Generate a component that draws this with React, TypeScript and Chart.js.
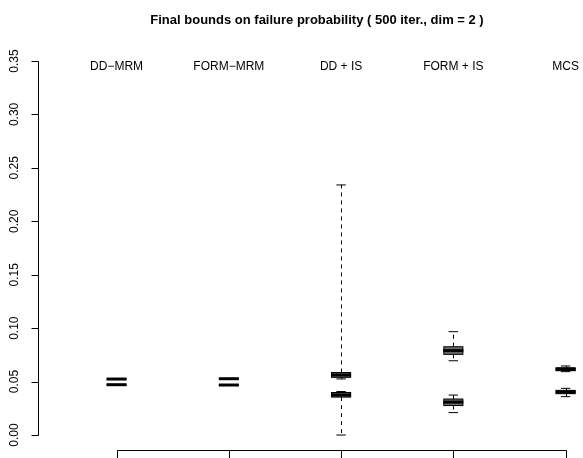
import React, { useEffect, useRef } from "react";
import { Chart, registerables } from "chart.js";

Chart.register(...registerables);

// ---------- data ----------
const titleText = "Final bounds on failure probability ( 500 iter., dim = 2 )";
const categories = ["DD\u2212MRM", "FORM\u2212MRM", "DD + IS", "FORM + IS", "MCS"];
const positions = [1, 2, 3, 4, 5];
const yTicks = [0, 0.05, 0.1, 0.15, 0.2, 0.25, 0.3, 0.35];

// upper-bound boxplots
const upperMin = [0.0523, 0.0526, 0.0525, 0.0695, 0.0593];
const upperQ1 = [0.0523, 0.0527, 0.054, 0.0755, 0.0602];
const upperMed = [0.0524, 0.0527, 0.0562, 0.079, 0.0614];
const upperQ3 = [0.0525, 0.0528, 0.0585, 0.0826, 0.063];
const upperMax = [0.0525, 0.0528, 0.234, 0.0967, 0.0646];

// lower-bound boxplots
const lowerMin = [0.047, 0.0467, 0.0, 0.021, 0.0359];
const lowerQ1 = [0.047, 0.0468, 0.0355, 0.0276, 0.0387];
const lowerMed = [0.0471, 0.0468, 0.0375, 0.0308, 0.0402];
const lowerQ3 = [0.0472, 0.0469, 0.0398, 0.0337, 0.0418];
const lowerMax = [0.0472, 0.0469, 0.0407, 0.0374, 0.0437];

// ---------- styles ----------
const BOX_HALF = 0.085; // in x units
const CAP_HALF = 0.042;
const FONT = "'Liberation Sans', Arial, Helvetica, sans-serif";

type Series = { min: number[]; q1: number[]; med: number[]; q3: number[]; max: number[] };
const seriesList: Series[] = [
  { min: upperMin, q1: upperQ1, med: upperMed, q3: upperQ3, max: upperMax },
  { min: lowerMin, q1: lowerQ1, med: lowerMed, q3: lowerQ3, max: lowerMax },
];

const boxPlugin = {
  id: "boxWhiskers",
  beforeDatasetsDraw(chart: any) {
    const ctx = chart.ctx;
    const xs = chart.scales.x;
    const ys = chart.scales.y;
    ctx.save();
    ctx.strokeStyle = "#000";
    ctx.lineWidth = 1;
    seriesList.forEach((s) => {
      positions.forEach((p, i) => {
        const cx = Math.round(xs.getPixelForValue(p)) + 0.5;
        const xl = xs.getPixelForValue(p - BOX_HALF);
        const xr = xs.getPixelForValue(p + BOX_HALF);
        const cl = xs.getPixelForValue(p - CAP_HALF);
        const cr = xs.getPixelForValue(p + CAP_HALF);
        const yMin = ys.getPixelForValue(s.min[i]);
        const yQ1 = ys.getPixelForValue(s.q1[i]);
        const yQ3 = ys.getPixelForValue(s.q3[i]);
        const yMax = ys.getPixelForValue(s.max[i]);
        // whiskers (dashed)
        ctx.setLineDash([4, 4]);
        ctx.beginPath();
        ctx.moveTo(cx, yQ3);
        ctx.lineTo(cx, yMax);
        ctx.moveTo(cx, yQ1);
        ctx.lineTo(cx, yMin);
        ctx.stroke();
        ctx.setLineDash([]);
        // caps
        ctx.beginPath();
        ctx.moveTo(cl, yMax);
        ctx.lineTo(cr, yMax);
        ctx.moveTo(cl, yMin);
        ctx.lineTo(cr, yMin);
        ctx.stroke();
        // box
        ctx.fillStyle = "#6e6e6e";
        ctx.fillRect(xl, yQ3, xr - xl, yQ1 - yQ3);
        ctx.strokeRect(xl, yQ3, xr - xl, yQ1 - yQ3);
      });
    });
    ctx.restore();
  },
  afterDraw(chart: any) {
    const ctx = chart.ctx;
    const xs = chart.scales.x;
    const ys = chart.scales.y;
    const area = chart.chartArea;
    ctx.save();
    ctx.strokeStyle = "#000";
    ctx.fillStyle = "#000";
    ctx.lineWidth = 1;
    // y axis
    const ax = Math.round(area.left) + 0.5;
    const y0 = Math.round(ys.getPixelForValue(yTicks[0])) + 0.5;
    const y1 = Math.round(ys.getPixelForValue(yTicks[yTicks.length - 1])) + 0.5;
    ctx.beginPath();
    ctx.moveTo(ax, y0);
    ctx.lineTo(ax, y1);
    yTicks.forEach((t) => {
      const yy = Math.round(ys.getPixelForValue(t)) + 0.5;
      ctx.moveTo(ax, yy);
      ctx.lineTo(ax - 7, yy);
    });
    ctx.stroke();
    ctx.font = `12px ${FONT}`;
    ctx.textAlign = "center";
    ctx.textBaseline = "middle";
    yTicks.forEach((t) => {
      const yy = ys.getPixelForValue(t);
      ctx.save();
      ctx.translate(15, yy);
      ctx.rotate(-Math.PI / 2);
      ctx.fillText(t.toFixed(2), 0, 0);
      ctx.restore();
    });
    // x axis
    const by = Math.round(area.bottom) + 0.5;
    ctx.beginPath();
    ctx.moveTo(Math.round(xs.getPixelForValue(positions[0])) + 0.5, by);
    ctx.lineTo(Math.round(xs.getPixelForValue(positions[positions.length - 1])) + 0.5, by);
    positions.forEach((p) => {
      const xx = Math.round(xs.getPixelForValue(p)) + 0.5;
      ctx.moveTo(xx, by);
      ctx.lineTo(xx, by + 8);
    });
    ctx.stroke();
    // category labels
    ctx.font = `12px ${FONT}`;
    categories.forEach((c, i) => {
      ctx.fillText(c, xs.getPixelForValue(positions[i]), ys.getPixelForValue(0.35) + 6);
    });
    // title
    ctx.font = `bold 13px ${FONT}`;
    ctx.fillText(titleText, 317, 20);
    ctx.restore();
  },
};

export default function App() {
  const ref = useRef<HTMLCanvasElement | null>(null);
  useEffect(() => {
    if (!ref.current) return;
    const medianData = [
      ...positions.map((p, i) => ({ x: p, y: upperMed[i] })),
      ...positions.map((p, i) => ({ x: p, y: lowerMed[i] })),
    ];
    const chart = new Chart(ref.current, {
      type: "scatter",
      data: {
        datasets: [
          {
            label: "median",
            data: medianData,
            pointStyle: "line",
            pointRadius: 10,
            pointHoverRadius: 10,
            borderWidth: 3,
            borderColor: "#000",
            backgroundColor: "#000",
            clip: false,
          },
        ],
      },
      options: {
        responsive: false,
        animation: false,
        layout: { autoPadding: false, padding: { left: 38, right: 0, top: 46, bottom: 8 } },
        plugins: { legend: { display: false }, tooltip: { enabled: false }, title: { display: false } },
        scales: {
          x: { type: "linear", display: false, min: 0.3, max: 5.155 },
          y: { type: "linear", display: false, min: -0.014, max: 0.364 },
        },
      },
      plugins: [boxPlugin],
    });
    return () => chart.destroy();
  }, []);
  return (
    <div style={{ position: "fixed", left: 0, top: 0, width: 583, height: 458, background: "#fff" }}>
      <canvas ref={ref} width={583} height={458} style={{ width: 583, height: 458 }} />
    </div>
  );
}
